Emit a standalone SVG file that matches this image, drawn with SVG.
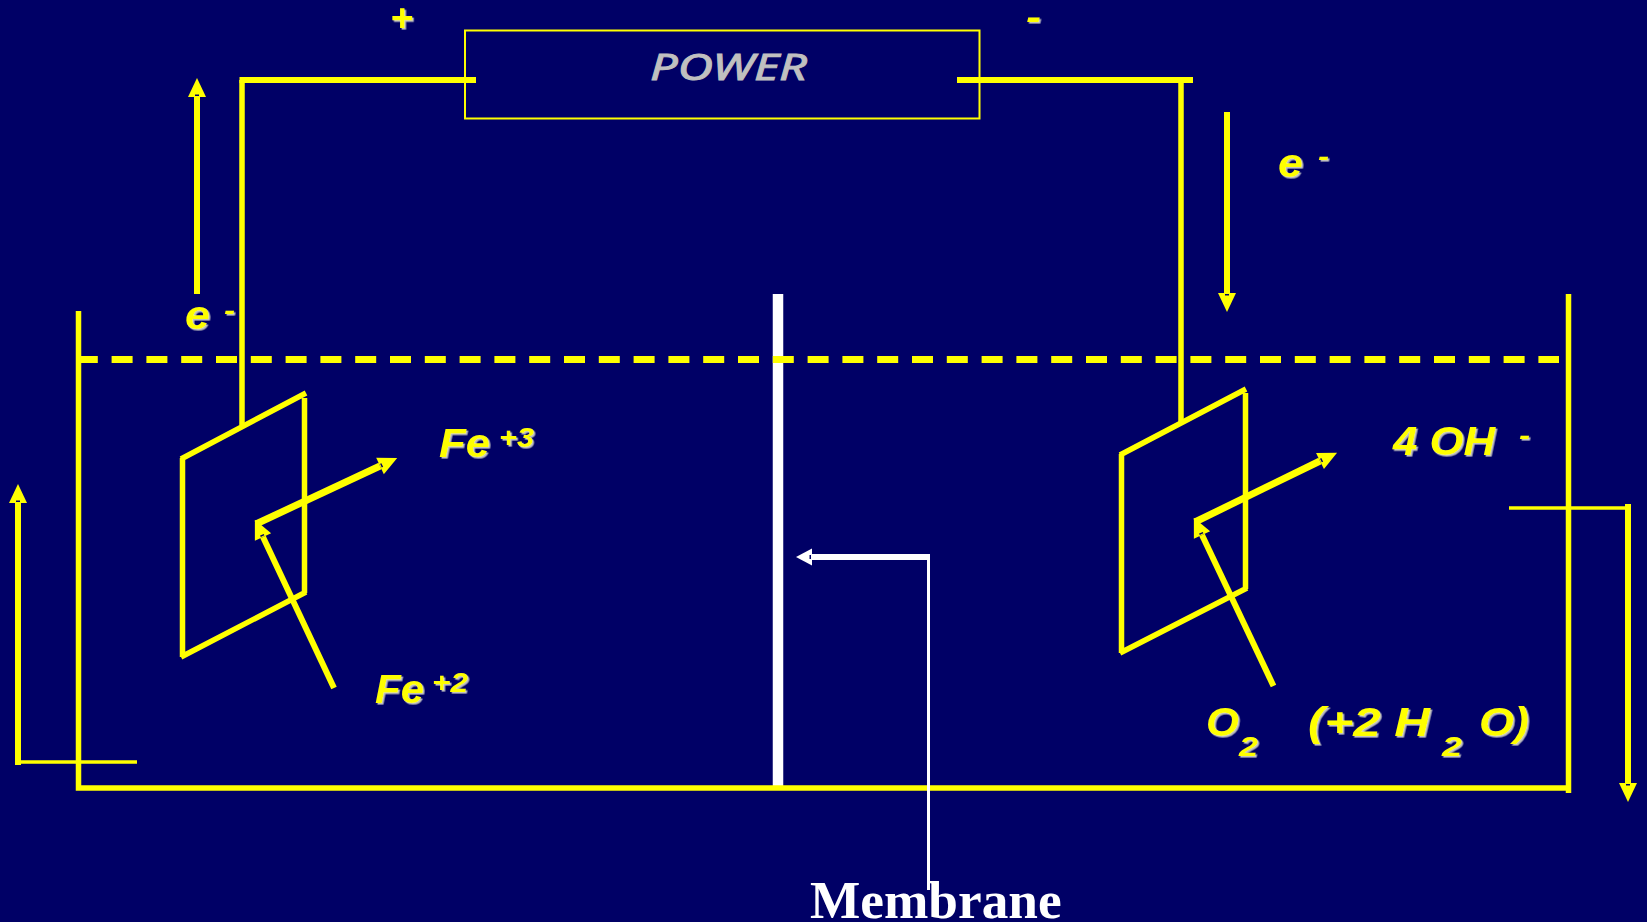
<svg xmlns="http://www.w3.org/2000/svg" width="1647" height="922" viewBox="0 0 1647 922">
<style>
.y{stroke:#ffff00;fill:none;stroke-width:5.5}
.w{stroke:#ffffff;fill:none}
.a{stroke-width:6;marker-end:url(#ay)}
.t{font-family:"Liberation Sans",Arial,sans-serif;font-weight:bold;font-style:italic;fill:#ffff00;filter:url(#sh)}
.b{font-size:40px}.s{font-size:28px}
</style>
<defs>
<filter id="sh" x="-30%" y="-30%" width="170%" height="170%"><feDropShadow dx="1.6" dy="1.6" stdDeviation="0.4" flood-color="#c0c0c0" flood-opacity="1"/></filter>
<marker id="ay" markerUnits="userSpaceOnUse" markerWidth="22" markerHeight="20" viewBox="0 0 22 20" refX="1" refY="10" orient="auto"><path d="M1 1 L20 10 L1 19Z" fill="#ffff00"/><rect x="2" y="8" width="1.500" height="4" fill="#000066"/></marker>
<marker id="aw" markerUnits="userSpaceOnUse" markerWidth="20" markerHeight="20" viewBox="0 0 20 20" refX="1" refY="10" orient="auto"><path d="M1 1.500 L17 10 L1 18.500Z" fill="#ffffff"/><rect x="2" y="8" width="1.500" height="4" fill="#000066"/></marker>
</defs>
<rect width="1647" height="922" fill="#000066"/>
<g id="membrane"><path class="w" style="stroke-width:10.500" d="M778 294V787"/></g>
<g id="tank">
<path class="y" d="M78.500 311V788H1568.500M1568.500 294V793"/>
<path class="y" style="stroke-width:7;stroke-dasharray:21 13.800" d="M76.800 359.500H1559"/>
</g>
<g id="power">
<rect x="465" y="30.500" width="514.500" height="88" fill="none" stroke="#ffff00" stroke-width="2"/>
<text x="650" y="80" font-family="'Noto Sans',sans-serif" font-style="italic" font-size="37" fill="#c0c0c0" stroke="#c0c0c0" stroke-width="0.900" textLength="157" lengthAdjust="spacingAndGlyphs">POWER</text>
</g>
<g id="anode">
<path class="y" d="M182.500 657V458M181 459L306 393M304.500 398V593M306 592L181 657"/>
</g>
<g id="cathode">
<path class="y" d="M1121.500 653V454M1120 455L1246 389M1245.500 393V589M1247 588L1120 653"/>
</g>
<g id="connectors">
<path class="y" style="stroke-width:6" d="M476 80H239.500M1193 80H957"/>
<path class="y" d="M242 80V425M1181 77V422"/>
<path class="y a" d="M197 294V97"/>
<path class="y a" d="M1227 112V293"/>
<path class="y a" style="stroke-width:7" d="M256 524L380 466"/>
<path class="y a" d="M1195 522L1320 461" style="stroke-width:7"/>
<path class="y a" d="M334 688L263 537"/>
<path class="y a" d="M1273.500 686L1202 535"/>
<path class="y" style="stroke-width:3.500" d="M1509 508H1628"/>
<path class="y a" d="M1628 504V783"/>
<path class="y" style="stroke-width:3.500" d="M137 762H18"/>
<path class="y a" d="M18 765V503"/>
<path class="w" style="stroke-width:3" d="M928.500 556V890"/>
<path class="w" style="stroke-width:6;marker-end:url(#aw)" d="M930 557H812"/>
</g>
<g id="labels">
<text class="t" x="390" y="31" font-size="38" textLength="23" lengthAdjust="spacingAndGlyphs">+</text>
<text class="t" x="1026" y="29" font-size="36" textLength="15" lengthAdjust="spacingAndGlyphs">-</text>
<text class="t b" x="185" y="329" textLength="25" lengthAdjust="spacingAndGlyphs">e</text>
<text class="t s" x="224" y="320" textLength="11" lengthAdjust="spacingAndGlyphs">-</text>
<text class="t b" x="1278" y="177" textLength="25" lengthAdjust="spacingAndGlyphs">e</text>
<text class="t s" x="1318" y="166" textLength="11" lengthAdjust="spacingAndGlyphs">-</text>
<text class="t b" x="439" y="457" textLength="51" lengthAdjust="spacingAndGlyphs">Fe</text>
<text class="t s" x="499" y="447" textLength="35" lengthAdjust="spacingAndGlyphs">+3</text>
<text class="t b" x="375" y="703" textLength="49" lengthAdjust="spacingAndGlyphs">Fe</text>
<text class="t s" x="432" y="692" textLength="36" lengthAdjust="spacingAndGlyphs">+2</text>
<text class="t b" x="1393" y="455" textLength="102" lengthAdjust="spacingAndGlyphs">4 OH</text>
<text class="t s" x="1519" y="445" textLength="11" lengthAdjust="spacingAndGlyphs">-</text>
<text class="t b" x="1206" y="736" textLength="33" lengthAdjust="spacingAndGlyphs">O</text>
<text class="t s" x="1239" y="756" textLength="19" lengthAdjust="spacingAndGlyphs">2</text>
<text class="t b" x="1308" y="736" textLength="122" lengthAdjust="spacingAndGlyphs">(+2 H</text>
<text class="t s" x="1442" y="756" textLength="20" lengthAdjust="spacingAndGlyphs">2</text>
<text class="t b" x="1479" y="736" textLength="50" lengthAdjust="spacingAndGlyphs">O)</text>
<text x="810" y="918" font-family="'Liberation Serif','Times New Roman',serif" font-weight="bold" font-size="53.300" fill="#ffffff">Membrane</text>
</g>
</svg>
